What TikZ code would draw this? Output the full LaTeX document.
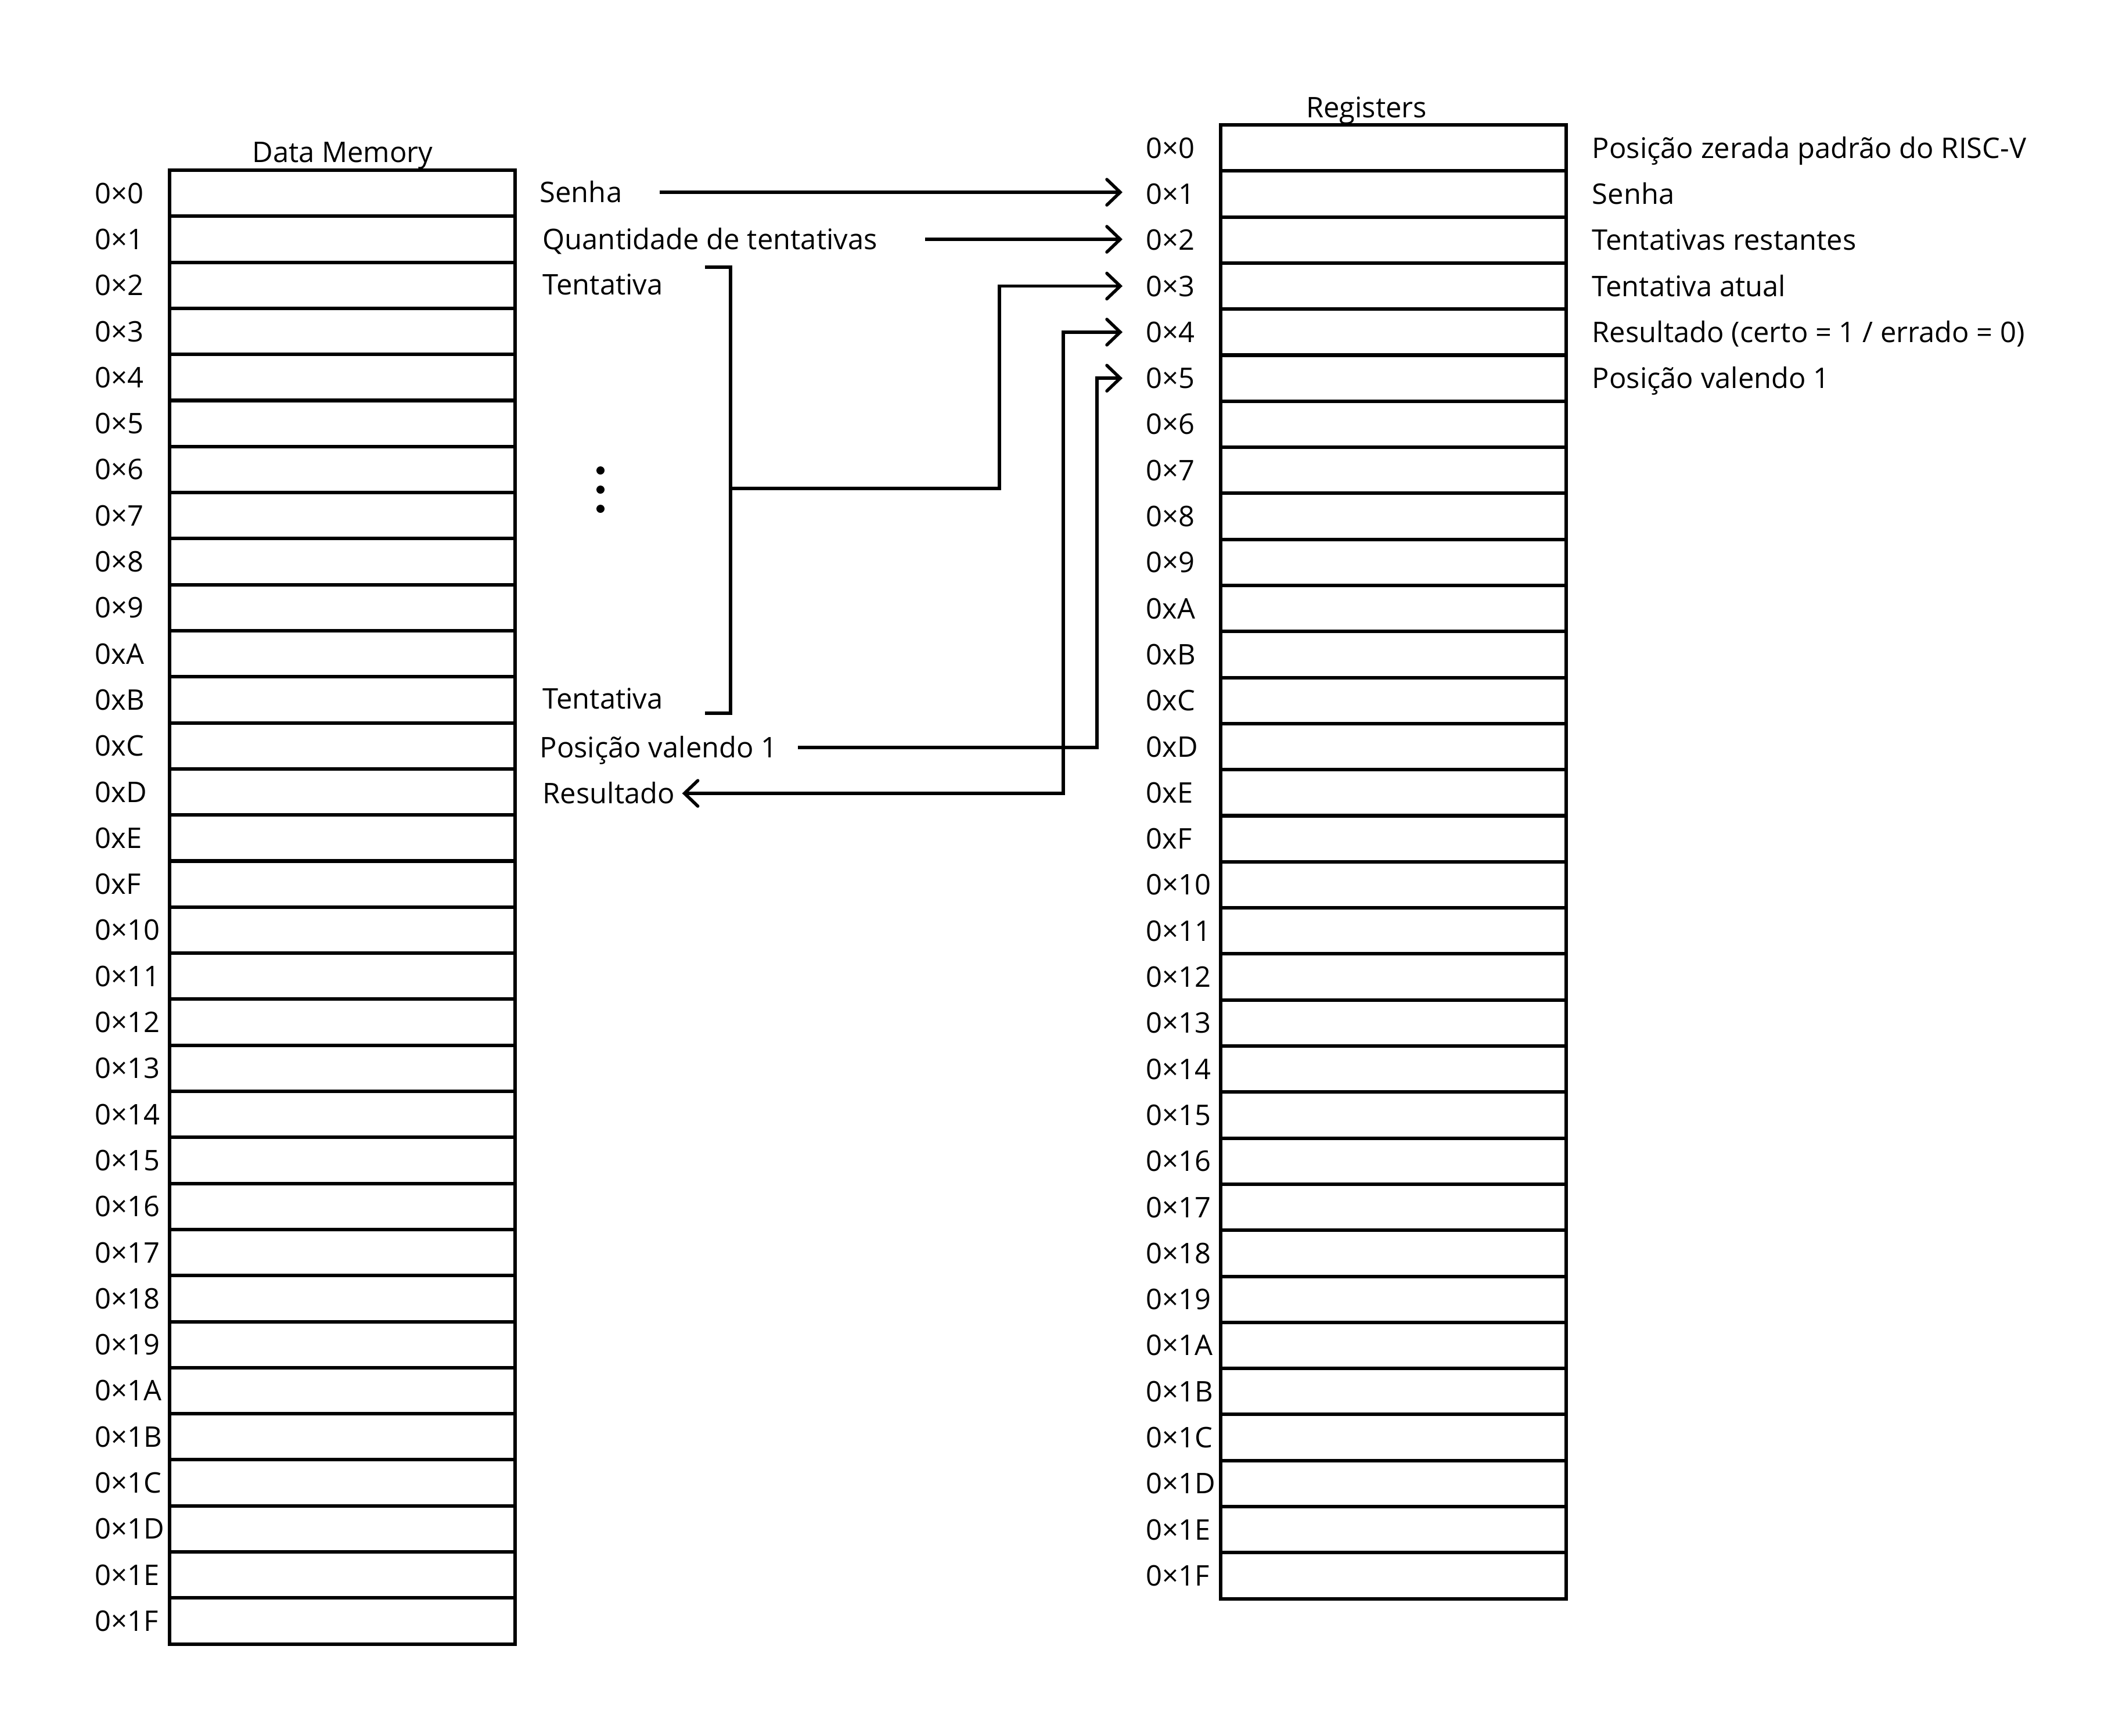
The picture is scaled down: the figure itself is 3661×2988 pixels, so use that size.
\documentclass[tikz,border=0pt]{standalone}
\usepackage{fontspec}
\setmainfont{Open Sans}
\usetikzlibrary{arrows.meta}
\begin{document}
\begin{tikzpicture}[x=0.01cm,y=-0.01cm,
  cell/.style={draw, line width=0.06cm, minimum width=5.95cm, minimum height=0.793cm, inner sep=0pt, outer sep=0pt},
  lbl/.style={inner sep=0pt, anchor=west, text height=0.35cm, text depth=0cm, font=\fontsize{13.9pt}{16pt}\selectfont},
  conn/.style={line width=0.055cm},
  arr/.style={conn, -{Straight Barb[length=0.23cm, width=0.44cm, line cap=round]}},
  arrtwo/.style={conn, {Straight Barb[length=0.23cm, width=0.44cm, line cap=round]}-{Straight Barb[length=0.23cm, width=0.44cm, line cap=round]}},
]
\fill[white] (0,0) rectangle (3661,2988);
\useasboundingbox (0,0) rectangle (3661,2988);

\foreach \lab [count=\i from 0] in {0×0,0×1,0×2,0×3,0×4,0×5,0×6,0×7,0×8,0×9,0xA,0xB,0xC,0xD,0xE,0xF,0×10,0×11,0×12,0×13,0×14,0×15,0×16,0×17,0×18,0×19,0×1A,0×1B,0×1C,0×1D,0×1E,0×1F} {
  \node[cell] (m\i) at (589.5, {293+79.3*(\i+0.5)}) {};
  \node[lbl] (ml\i) at (163, {293+79.3*(\i+0.5)}) {\lab};
  \node[cell] (r\i) at (2399.5, {215+79.3*(\i+0.5)}) {};
  \node[lbl] (rl\i) at (1973, {215+79.3*(\i+0.5)}) {\lab};
}

\node[lbl, anchor=center] (dmt) at (590,262) {Data Memory};
\node[lbl, anchor=center] (rgt) at (2353,185) {Registers};

\node[lbl] (d0) at (2741,254.65) {Posição zerada padrão do RISC-V};
\node[lbl] (d1) at (2741,333.95) {Senha};
\node[lbl] (d2) at (2741,413.25) {Tentativas restantes};
\node[lbl] (d3) at (2741,492.55) {Tentativa atual};
\node[lbl] (d4) at (2741,571.85) {Resultado (certo = 1 / errado = 0)};
\node[lbl] (d5) at (2741,651.15) {Posição valendo 1};

\node[lbl] (sen) at (929,331) {Senha};
\node[lbl] (qt) at (934,412) {Quantidade de tentativas};
\node[lbl] (t1) at (934,490) {Tentativa};
\node[lbl] (t2) at (934,1203) {Tentativa};
\node[lbl] (pv) at (929,1287) {Posição valendo 1};
\node[lbl] (res) at (934,1366) {Resultado};

\fill (1034,810) circle[radius=0.07cm];
\fill (1034,843) circle[radius=0.07cm];
\fill (1034,876) circle[radius=0.07cm];

\coordinate (bt) at (1258,460);
\coordinate (bb) at (1258,1228);
\coordinate (bm) at (1258,841);
\coordinate (k3) at (1721,0);
\coordinate (k4) at (1831,0);
\coordinate (k5) at (1889,0);

\draw[conn] ([xshift=-0.44cm]bt) -- (bt) -- (bb) -- ([xshift=-0.44cm]bb);

\draw[arr, shorten >=0.40cm, shorten <=0.64cm] (sen.east) -- (sen.east -| rl1.west);
\draw[arr, shorten >=0.40cm, shorten <=0.82cm] (qt.east) -- (qt.east -| rl2.west);
\draw[arr, shorten >=0.40cm] (bm) -| (k3 |- rl3.west) -- (rl3.west);
\draw[arrtwo, shorten >=0.40cm, shorten <=0.12cm] (res.east) -| (k4 |- rl4.west) -- (rl4.west);
\draw[arr, shorten >=0.40cm, shorten <=0.35cm] (pv.east) -| (k5 |- rl5.west) -- (rl5.west);
\end{tikzpicture}
\end{document}
